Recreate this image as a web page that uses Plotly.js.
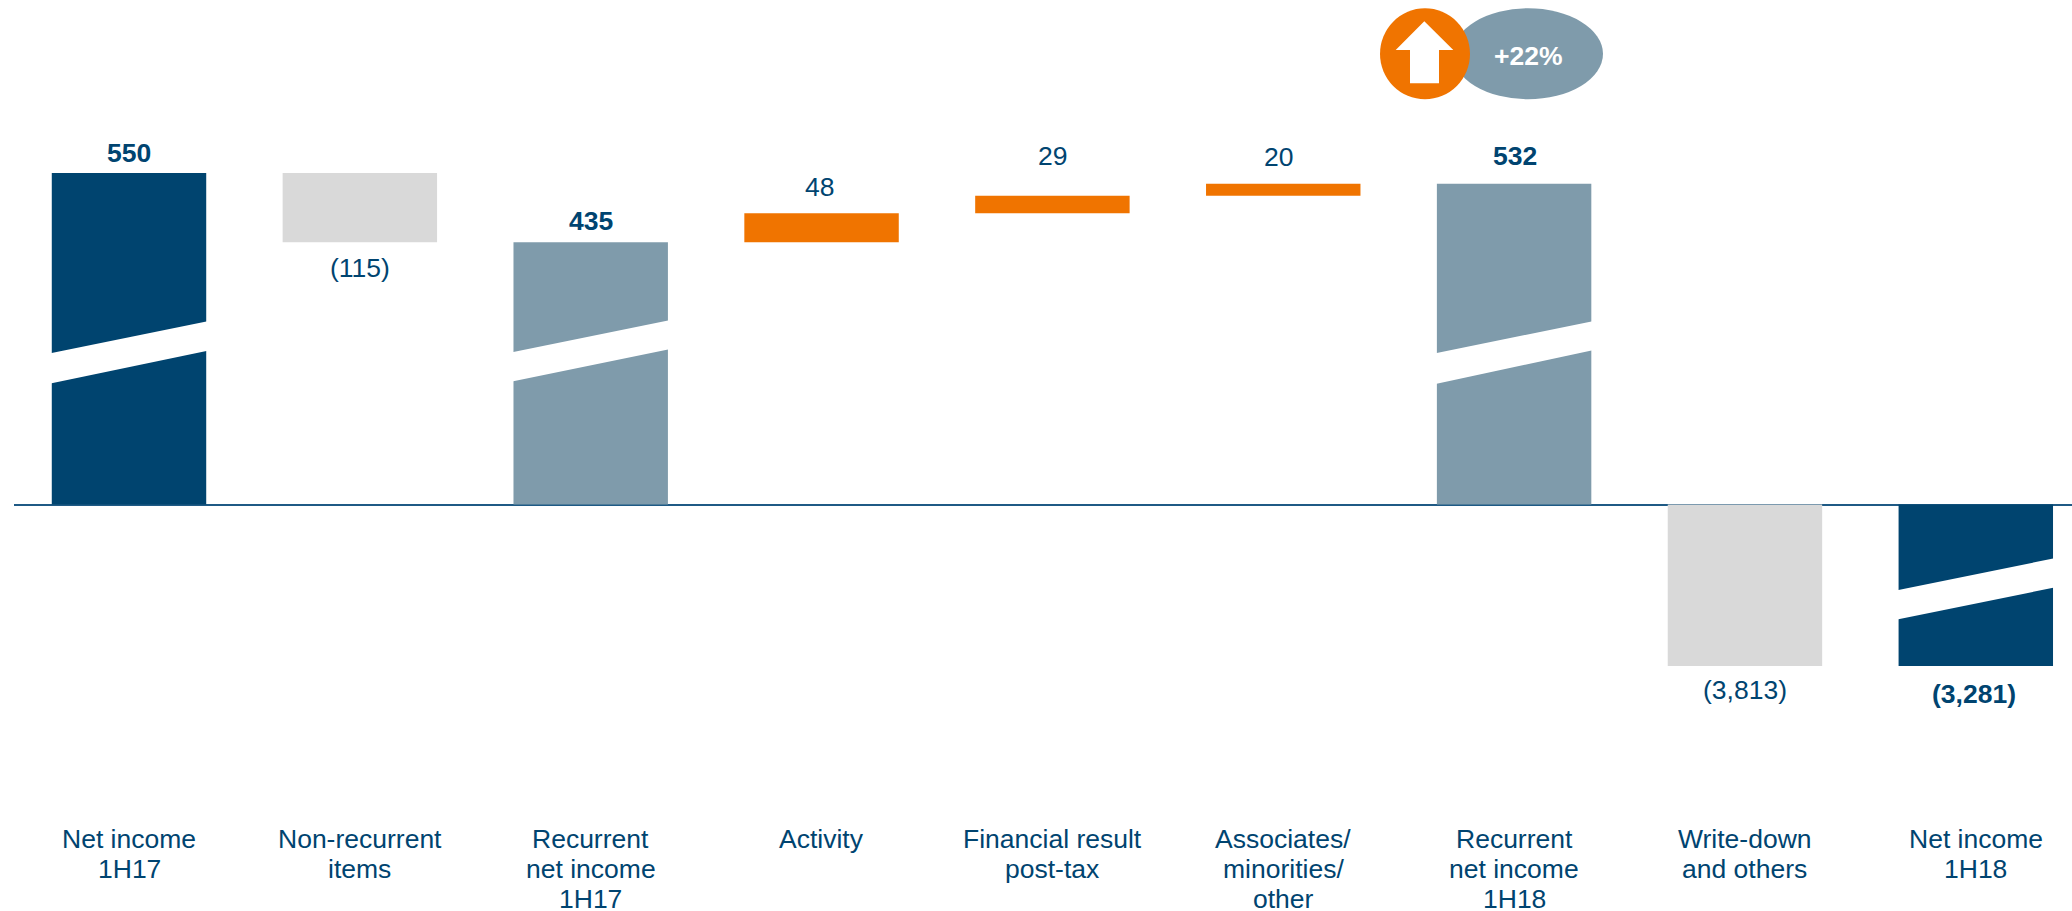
<!DOCTYPE html>
<html>
<head>
<meta charset="utf-8">
<script src="https://cdn.plot.ly/plotly-3.0.1.min.js"></script>
<style>html,body{margin:0;padding:0;background:#fff;overflow:hidden}#chart{width:2072px;height:911px}</style>
</head>
<body>
<div id="chart"></div>
<script>
// ---- data ----
const categories = [
  ['Net income', '1H17'],
  ['Non-recurrent', 'items'],
  ['Recurrent', 'net income', '1H17'],
  ['Activity'],
  ['Financial result', 'post-tax'],
  ['Associates/', 'minorities/', 'other'],
  ['Recurrent', 'net income', '1H18'],
  ['Write-down', 'and others'],
  ['Net income', '1H18']
];
const valueLabels = ['550', '(115)', '435', '48', '29', '20', '532', '(3,813)', '(3,281)'];
// heights on the chart's broken axis (the two large losses are not to scale)
const barHeights = [550, 115, 435, 48, 29, 20, 532, -267.5, -267.5];
const barBases   = [0, 435, 0, 435, 483, 512, 0, 0, 0];
const barKinds   = ['total', 'neg', 'sub', 'pos', 'pos', 'pos', 'sub', 'neg', 'total'];
const boldLabels = [true, false, true, false, false, false, true, false, true];
const growthLabel = '+22%';
// axis breaks: bar index, lower edge at left / right, upper edge at left / right
const breaks = [
  [0, 201, 255, 251, 304],
  [2, 204, 257.5, 252.6, 305.6],
  [6, 200, 256, 251, 304],
  [8, -190.4, -137.6, -142, -89]
];

// ---- styling ----
const kindColor = {total: '#00446F', sub: '#7F9BAB', neg: '#D9D9D9', pos: '#F07400'};
const textColor = '#004470';
const fontFamily = '"Liberation Sans", Arial, sans-serif';
const fontSize = 26.5;
const W = 2072, H = 911, LEFT = 14;
const zeroPx = 504.6, pxPerUnit = 0.603, stepPx = 230.85, firstCenterPx = 129;
const barWidth = 0.669;
// label centre: px above bar top (or below the bar end)
const labelGap = [20, -26, 21.4, 26, 39.6, 26.6, 28, -24.5, -28.5];
const labelDx = [0, 0, 0, -2, 0, -5, 1, 0, -2];

const xMin = -(firstCenterPx - LEFT) / stepPx;
const xMax = xMin + (W - LEFT) / stepPx;
const yMax = zeroPx / pxPerUnit;
const yMin = -(H - zeroPx) / pxPerUnit;
const fx = px => (px - LEFT) / (W - LEFT);
const fy = px => 1 - px / H;
const idx = categories.map((_, i) => i);

const traces = [{
  type: 'bar',
  x: idx,
  y: barHeights,
  base: barBases,
  width: barWidth,
  marker: {color: barKinds.map(k => kindColor[k]), line: {width: 0}},
  hoverinfo: 'skip'
}];
const half = barWidth / 2 + 0.006;
breaks.forEach(b => {
  traces.push({
    type: 'scatter', mode: 'lines', fill: 'toself', fillcolor: '#ffffff',
    line: {width: 0, color: '#ffffff'}, hoverinfo: 'skip',
    x: [b[0] - half, b[0] + half, b[0] + half, b[0] - half, b[0] - half],
    y: [b[1], b[2], b[4], b[3], b[1]]
  });
});

const annotations = [];
valueLabels.forEach((t, i) => {
  const top = barBases[i] + Math.max(barHeights[i], 0);
  const end = barBases[i] + Math.min(barHeights[i], 0);
  const gap = labelGap[i];
  const yval = gap > 0 ? top : (barHeights[i] < 0 ? end : barBases[i]);
  annotations.push({
    x: i, y: yval, xref: 'x', yref: 'y', text: boldLabels[i] ? '<b>' + t + '</b>' : t,
    showarrow: false, xanchor: 'center', yanchor: 'middle', yshift: gap, xshift: labelDx[i],
    font: {family: fontFamily, size: fontSize, color: textColor}
  });
});
categories.forEach((lines, i) => {
  lines.forEach((line, j) => {
    annotations.push({
      x: i, xref: 'x', y: fy(838.5 + j * 30), yref: 'paper', text: line,
      showarrow: false, xanchor: 'center', yanchor: 'middle',
      font: {family: fontFamily, size: fontSize, color: textColor}
    });
  });
});
annotations.push({
  x: fx(1528.5), xref: 'paper', y: fy(56), yref: 'paper', text: '<b>' + growthLabel + '</b>',
  showarrow: false, xanchor: 'center', yanchor: 'middle',
  font: {family: fontFamily, size: fontSize, color: '#ffffff'}
});

const arrowPts = [[1424.3,21.3],[1453.3,50],[1439,50],[1439,83.3],[1410,83.3],[1410,50],[1395.7,50]];
const shapes = [
  {type: 'circle', xref: 'paper', yref: 'paper', x0: fx(1453), x1: fx(1603), y0: fy(8.3), y1: fy(99.3),
   fillcolor: kindColor.sub, line: {width: 0}, layer: 'above'},
  {type: 'circle', xref: 'paper', yref: 'paper', x0: fx(1380), x1: fx(1470), y0: fy(8.3), y1: fy(99.3),
   fillcolor: kindColor.pos, line: {width: 0}, layer: 'above'},
  {type: 'path', xref: 'paper', yref: 'paper', layer: 'above', fillcolor: '#ffffff', line: {width: 0},
   path: 'M' + arrowPts.map(p => fx(p[0]) + ',' + fy(p[1])).join('L') + 'Z'}
];

Plotly.newPlot('chart', traces, {
  width: W, height: H,
  margin: {l: LEFT, r: 0, t: 0, b: 0, pad: 0},
  paper_bgcolor: '#ffffff', plot_bgcolor: '#ffffff',
  showlegend: false, hovermode: false,
  xaxis: {type: 'linear', range: [xMin, xMax], showgrid: false, zeroline: false, showline: false,
          showticklabels: false, ticks: ''},
  yaxis: {type: 'linear', range: [yMin, yMax], showgrid: false, zeroline: true, zerolinecolor: '#1F5A85',
          zerolinewidth: 2, showline: false, showticklabels: false, ticks: ''},
  annotations, shapes
}, {displayModeBar: false, staticPlot: true});
</script>
</body>
</html>
